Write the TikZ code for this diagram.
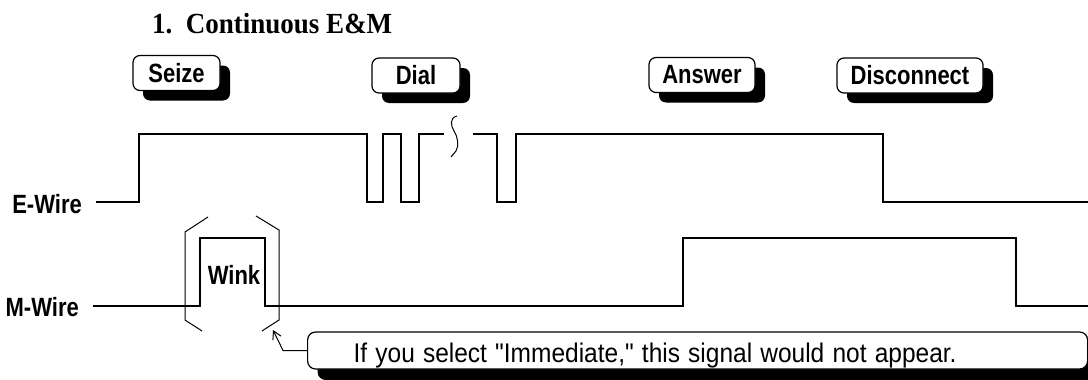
\documentclass[tikz,border=0pt]{standalone}
\usepackage{fontspec}
\setmainfont{Liberation Serif}
\setsansfont{Liberation Sans}[Ligatures=TeXOff]
\usetikzlibrary{arrows.meta,shadows}

\newcommand{\tallbold}[1]{\scalebox{1}[1.2]{#1}}

\tikzset{
  wire/.style={line width=1.6pt, line join=miter},
  brace/.style={line width=1pt},
  evbox/.style={draw, line width=1.2pt, fill=white, rounded corners=7pt,
    minimum height=35pt, inner sep=0pt,
    font=\sffamily\bfseries\fontsize{22}{22}\selectfont,
    drop shadow={shadow xshift=10pt, shadow yshift=-10pt, opacity=1, fill=black}},
  wirelabel/.style={font=\sffamily\bfseries\fontsize{22}{22}\selectfont,
    anchor=east, inner xsep=14pt},
  note/.style={draw, line width=1.2pt, fill=white, rounded corners=8pt,
    minimum height=37pt, inner xsep=46pt, inner ysep=0pt, text width=688pt,
    align=left, text height=23pt, text depth=0pt,
    font=\sffamily\fontsize{24.5}{24.5}\selectfont,
    drop shadow={shadow xshift=10pt, shadow yshift=-11pt, opacity=1, fill=black}},
}

\begin{document}
\begin{tikzpicture}[x=1pt, y=-1pt]
  \useasboundingbox (0,0) rectangle (1088,380);
  % Title
  \node[anchor=base west, inner sep=0pt, font=\bfseries\fontsize{27}{27}\selectfont]
    (title) at (152,33) {\scalebox{1}[1.08]{1.\hspace{0.5em}Continuous E\&M}};
  % Events
  \node[evbox, minimum width=87pt] (seize) at (176.5,73) {\tallbold{Seize}};
  \node[evbox, minimum width=88pt] (dial) at (416,75.5) {\tallbold{Dial}};
  \node[evbox, minimum width=106pt] (answer) at (702,75) {\tallbold{Answer}};
  \node[evbox, minimum width=146pt] (disc) at (910,75.5) {\tallbold{Disconnect}};
  % E-Wire
  \node[wirelabel] (ewire) at (96,204) {\tallbold{E-Wire}};
  \draw[wire] (96,202) -- (139,202) -- (139,134) -- (367,134) -- (367,202)
    -- (383,202) -- (383,134) -- (401,134) -- (401,202) -- (419,202)
    -- (419,134) -- (444,134);
  \draw[brace] (457,116) .. controls (449,118) and (451,126) .. (454,131)
    .. controls (458,137) and (459,146) .. (456,151) -- (451,157);
  \draw[wire] (473,134) -- (497,134) -- (497,202) -- (516,202) -- (516,134)
    -- (883,134) -- (883,202) -- (1088,202);
  % M-Wire
  \node[wirelabel] (mwire) at (93,307) {\tallbold{M-Wire}};
  \draw[wire] (93,306) -- (200,306) -- (200,238) -- (265,238) -- (265,306)
    -- (683,306) -- (683,238) -- (1016,238) -- (1016,306) -- (1088,306);
  % Wink brackets
  \draw[brace] (208,217) -- (185,232) -- (185,320) -- (202,331);
  \draw[brace] (256,216) -- (279,230) -- (279,320) -- (262,331);
  \node[font=\sffamily\bfseries\fontsize{22}{22}\selectfont] (wink) at (234,275)
    {\tallbold{Wink}};
  % Note
  \node[note, anchor=west] (remark) at (307,350.5)
    {\scalebox{1}[1.1]{If you select "Immediate," this signal would not appear.}};
  \coordinate (winkend) at (273,330);
  \draw[line width=1pt, -{Straight Barb[length=8pt,width=9pt]}]
    (remark.west) -- ++(-24,0) -- (winkend);
\end{tikzpicture}
\end{document}
